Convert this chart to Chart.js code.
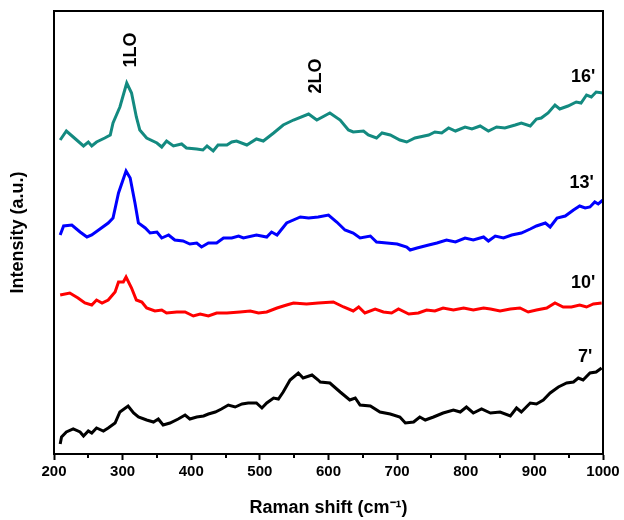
<!DOCTYPE html>
<html>
<head>
<meta charset="utf-8">
<script src="https://cdn.jsdelivr.net/npm/chart.js@4/dist/chart.umd.min.js"></script>
<style>
  html, body { margin: 0; padding: 0; background: #fff; }
  #wrap { width: 624px; height: 520px; }
</style>
</head>
<body>
<div id="wrap"><canvas id="raman"></canvas></div>
<script>
// Raman shift (cm-1) and intensity (a.u., offset per curve)
const shift16 = [209,218,228,243,250,255,262,274,282,286,296,306,313,320,325,335,350,357,364,374,386,393,408,417,423,432,439,452,459,466,481,495,505,520,534,549,571,583,602,617,629,636,651,658,670,678,690,704,714,726,746,755,765,775,785,799,809,821,833,845,857,872,881,894,903,910,920,930,937,949,961,968,976,983,990,1000];
const int16 = [314,323,317,308,312,308,312,316,319,331,347,371,361,337,324,316,311,307,313,308,310,306,305,304,308,303,309,309,312,313,309,315,313,321,329,334,340,334,341,334,324,322,323,319,316,321,319,314,312,316,319,322,321,326,323,327,325,328,323,327,326,329,331,328,335,336,341,349,345,348,352,351,359,357,362,361];

const shift13 = [209,214,226,238,248,255,267,279,286,294,305,311,318,323,333,340,350,357,367,376,388,398,408,415,425,437,447,459,469,476,495,510,517,525,539,559,571,585,600,612,624,636,646,661,670,685,700,714,719,729,746,758,772,785,799,811,826,833,843,855,867,881,894,903,916,923,933,945,957,966,974,981,988,993,1000];
const int13 = [219,228,229,222,217,219,225,231,236,261,283,276,251,231,226,221,222,216,219,214,213,210,211,207,211,211,216,216,218,216,219,217,222,219,231,237,236,237,239,232,224,221,216,218,212,211,210,207,204,206,209,211,214,212,216,214,217,213,218,216,219,221,225,228,231,227,236,238,244,248,246,247,252,250,254];

const shift10 = [209,223,235,245,255,262,270,279,289,294,301,305,313,320,328,335,347,357,364,379,391,403,413,425,437,452,471,486,498,510,525,539,549,568,585,607,622,636,644,653,668,680,692,702,717,731,743,755,767,782,797,811,826,836,850,865,879,891,903,918,930,942,954,966,976,986,998];
const int10 = [159,161,156,151,149,154,151,154,162,172,172,177,166,154,152,146,143,144,141,142,142,138,140,138,141,141,142,143,141,142,146,149,151,150,151,152,147,143,147,141,145,142,141,145,140,141,144,143,146,144,146,144,146,145,143,145,146,142,144,146,151,147,147,149,147,150,151];

const shift7 = [209,211,218,228,238,243,250,255,262,272,279,289,296,308,316,323,335,345,352,359,369,381,391,398,408,418,425,435,444,454,464,474,483,495,503,510,520,527,534,544,556,563,576,585,588,602,617,631,639,646,661,675,690,704,712,724,733,741,753,767,782,792,801,811,823,836,850,865,874,881,894,903,913,923,935,947,957,964,971,981,990,998];
const int7 = [10,17,22,25,22,18,23,21,26,23,26,31,42,48,41,37,34,32,35,29,31,35,39,35,37,38,40,42,45,49,47,50,51,51,46,51,56,55,62,74,81,76,79,74,72,71,62,54,56,49,48,42,40,37,31,32,37,34,37,41,44,42,47,41,45,41,42,38,46,42,51,50,54,61,67,71,72,76,74,81,82,86];

const xTicks = [200, 300, 400, 500, 600, 700, 800, 900, 1000];
const xMinorTicks = [250, 350, 450, 550, 650, 750, 850, 950];

// curve names and peak labels: [text, x, y, rotated]
const labels = [
    ["16'", 971, 377, false],
    ["13'", 969, 271, false],
    ["10'", 971, 171, false],
    ["7'", 974, 97, false],
    ["1LO", 312, 404, true],
    ["2LO", 582, 378, true]
];

const FONT = "Arial, 'Liberation Sans', sans-serif";

function toPoints(xs, ys) {
    return xs.map((x, i) => ({ x: x, y: ys[i] }));
}

// box round the plot plus the short minor ticks under the x axis
const framePlugin = {
    id: 'frame',
    afterDraw(chart) {
        const { ctx, chartArea: a } = chart;
        const xs = chart.scales.x;
        ctx.save();
        ctx.strokeStyle = '#000';
        ctx.lineWidth = 2;
        ctx.strokeRect(a.left, a.top, a.right - a.left, a.bottom - a.top);
        ctx.beginPath();
        xMinorTicks.forEach(v => {
            const px = Math.round(xs.getPixelForValue(v));
            ctx.moveTo(px, a.bottom);
            ctx.lineTo(px, a.bottom + 4);
        });
        ctx.stroke();
        ctx.restore();
    }
};

const labelPlugin = {
    id: 'labels',
    afterDatasetsDraw(chart) {
        const ctx = chart.ctx;
        const xs = chart.scales.x, ys = chart.scales.y;
        ctx.save();
        ctx.fillStyle = '#000';
        ctx.font = 'bold 18px ' + FONT;
        ctx.textAlign = 'center';
        ctx.textBaseline = 'middle';
        labels.forEach(([text, x, y, rotated]) => {
            const px = xs.getPixelForValue(x);
            const py = ys.getPixelForValue(y);
            ctx.save();
            ctx.translate(px, py);
            if (rotated) ctx.rotate(-Math.PI / 2);
            ctx.fillText(text, 0, 0);
            ctx.restore();
        });
        ctx.restore();
    }
};

const series = [
    { data: toPoints(shift7, int7), color: '#000000' },
    { data: toPoints(shift10, int10), color: '#ff0000' },
    { data: toPoints(shift13, int13), color: '#0000ff' },
    { data: toPoints(shift16, int16), color: '#138a80' }
];

new Chart(document.getElementById('raman'), {
    type: 'line',
    data: {
        datasets: series.map(s => ({
            data: s.data,
            borderColor: s.color,
            borderWidth: 3,
            pointRadius: 0,
            tension: 0,
            fill: false
        }))
    },
    options: {
        responsive: true,
        maintainAspectRatio: false,
        animation: false,
        layout: { padding: { top: 11, right: 21, left: 0, bottom: 0 } },
        plugins: { legend: { display: false }, tooltip: { enabled: false } },
        scales: {
            x: {
                type: 'linear',
                min: 200,
                max: 1000,
                afterFit: s => { s.height = 66; },
                afterBuildTicks: s => { s.ticks = xTicks.map(v => ({ value: v })); },
                ticks: {
                    color: '#000',
                    font: { family: FONT, size: 15, weight: 'bold' },
                    padding: 3,
                    maxRotation: 0,
                    autoSkip: false,
                    callback: v => String(v)
                },
                grid: { drawOnChartArea: false, tickLength: 6, tickColor: '#000', tickWidth: 2 },
                border: { color: '#000', width: 2 },
                title: {
                    display: true,
                    text: 'Raman shift (cm\u207B\u00B9)',
                    color: '#000',
                    font: { family: FONT, size: 18, weight: 'bold' },
                    padding: { top: 0, bottom: 1 }
                }
            },
            y: {
                min: 0,
                max: 443,
                afterFit: s => { s.width = 54; },
                ticks: { display: false },
                grid: { display: false },
                border: { color: '#000', width: 2 },
                title: {
                    display: true,
                    text: 'Intensity (a.u.)',
                    color: '#000',
                    font: { family: FONT, size: 18, weight: 'bold' },
                    padding: { top: 7, bottom: 0 }
                }
            }
        }
    },
    plugins: [framePlugin, labelPlugin]
});
</script>
</body>
</html>
